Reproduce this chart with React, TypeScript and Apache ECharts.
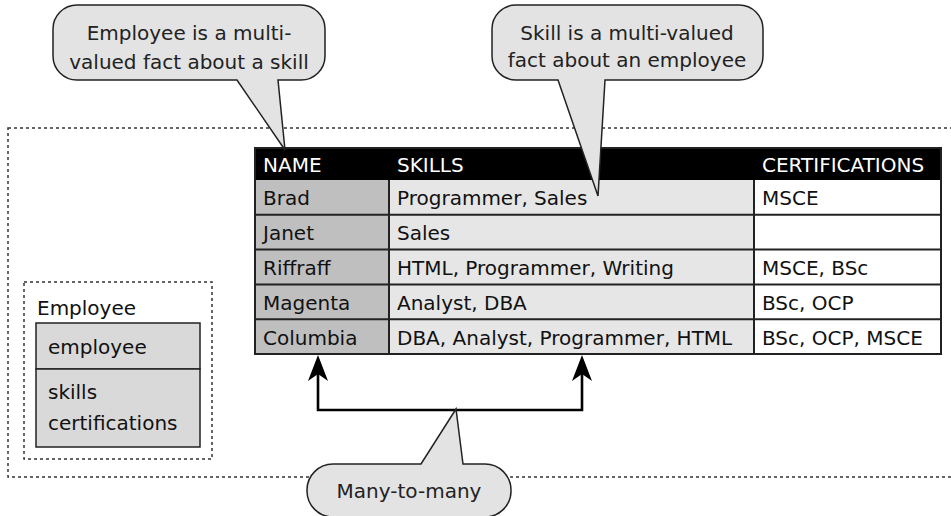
import React, { useEffect, useRef } from "react";
import * as echarts from "echarts";

// ---- data ----
const HEADERS = ["NAME", "SKILLS", "CERTIFICATIONS"];
const NAMES = ["Brad", "Janet", "Riffraff", "Magenta", "Columbia"];
const SKILLS = [
  "Programmer, Sales",
  "Sales",
  "HTML, Programmer, Writing",
  "Analyst, DBA",
  "DBA, Analyst, Programmer, HTML",
];
const CERTS = ["MSCE", "", "MSCE, BSc", "BSc, OCP", "BSc, OCP, MSCE"];
const ENTITY_NAME = "Employee";
const ENTITY_KEY = ["employee"];
const ENTITY_ATTRS = ["skills", "certifications"];
const CALLOUT_1 = ["Employee is a multi-", "valued fact about a skill"];
const CALLOUT_2 = ["Skill is a multi-valued", "fact about an employee"];
const CALLOUT_3 = ["Many-to-many"];

// ---- layout ----
const FONT = "DejaVu Sans";
const FS = 20;
const COL_X = [255, 389, 754, 941];
const COL_FILL = ["#bfbfbf", "#e6e6e6", "#ffffff"];
const HEAD_TOP = 148;
const HEAD_H = 32;
const ROW_H = 34.8;
const LINE = "#222";
const BUBBLE_FILL = "#e3e3e3";

type Tail = { side: "top" | "bottom"; a: number; b: number; tx: number; ty: number };

function bubblePath(x0: number, y0: number, x1: number, y1: number, r: number, t: Tail) {
  const k = 0.5523 * r;
  let d = `M ${x0 + r} ${y0} `;
  if (t.side === "top") d += `L ${t.a} ${y0} L ${t.tx} ${t.ty} L ${t.b} ${y0} `;
  d += `L ${x1 - r} ${y0} C ${x1 - r + k} ${y0} ${x1} ${y0 + r - k} ${x1} ${y0 + r} `;
  d += `L ${x1} ${y1 - r} C ${x1} ${y1 - r + k} ${x1 - r + k} ${y1} ${x1 - r} ${y1} `;
  if (t.side === "bottom") d += `L ${t.b} ${y1} L ${t.tx} ${t.ty} L ${t.a} ${y1} `;
  d += `L ${x0 + r} ${y1} C ${x0 + r - k} ${y1} ${x0} ${y1 - r + k} ${x0} ${y1 - r} `;
  d += `L ${x0} ${y0 + r} C ${x0} ${y0 + r - k} ${x0 + r - k} ${y0} ${x0 + r} ${y0} Z`;
  return d;
}

function txt(text: string, x: number, y: number, opts: any = {}) {
  return {
    type: "text",
    x,
    y,
    silent: true,
    z: opts.z ?? 10,
    style: {
      text,
      fill: opts.fill ?? "#111",
      fontSize: opts.fontSize ?? FS,
      fontFamily: FONT,
      align: opts.align ?? "left",
      verticalAlign: "middle",
      textAlign: opts.align ?? "left",
      textVerticalAlign: "middle",
    },
  };
}

export default function App() {
  const ref = useRef<HTMLDivElement>(null);
  useEffect(() => {
    echarts.graphic.registerShape(
      "bubble1",
      echarts.graphic.extendPath(
        bubblePath(53, 5, 325, 80, 24, { side: "bottom", a: 237, b: 278, tx: 285, ty: 150 }),
        {}
      )
    );
    echarts.graphic.registerShape(
      "bubble2",
      echarts.graphic.extendPath(
        bubblePath(492, 5, 763, 80, 24, { side: "bottom", a: 558, b: 605, tx: 598, ty: 196 }),
        {}
      )
    );
    echarts.graphic.registerShape(
      "bubble3",
      echarts.graphic.extendPath(
        bubblePath(307, 464, 511, 517, 26, { side: "top", a: 421, b: 463, tx: 456, ty: 409 }),
        {}
      )
    );

    const els: any[] = [];
    // outer dotted frame
    els.push({
      type: "rect",
      silent: true,
      shape: { x: 8, y: 128, width: 960, height: 349 },
      style: { fill: "none", stroke: "#333", lineWidth: 1.5, lineDash: [3, 3] },
    });
    // entity dotted frame
    els.push({
      type: "rect",
      silent: true,
      shape: { x: 24, y: 282, width: 188, height: 177 },
      style: { fill: "none", stroke: "#333", lineWidth: 1.5, lineDash: [3, 3] },
    });
    els.push(txt(ENTITY_NAME, 37, 308));
    els.push({
      type: "rect",
      silent: true,
      shape: { x: 36, y: 323, width: 164, height: 46 },
      style: { fill: "#d9d9d9", stroke: LINE, lineWidth: 1.5 },
    });
    els.push({
      type: "rect",
      silent: true,
      shape: { x: 36, y: 369, width: 164, height: 78 },
      style: { fill: "#d9d9d9", stroke: LINE, lineWidth: 1.5 },
    });
    ENTITY_KEY.forEach((s, i) => els.push(txt(s, 48, 347 + i * 31)));
    ENTITY_ATTRS.forEach((s, i) => els.push(txt(s, 48, 392 + i * 31)));

    // table
    const nRows = NAMES.length;
    const bodyTop = HEAD_TOP + HEAD_H;
    const tableBottom = bodyTop + nRows * ROW_H;
    const cols = [NAMES, SKILLS, CERTS];
    cols.forEach((_, c) => {
      els.push({
        type: "rect",
        silent: true,
        shape: { x: COL_X[c], y: bodyTop, width: COL_X[c + 1] - COL_X[c], height: nRows * ROW_H },
        style: { fill: COL_FILL[c] },
      });
    });
    els.push({
      type: "rect",
      silent: true,
      shape: { x: COL_X[0], y: HEAD_TOP, width: COL_X[3] - COL_X[0], height: HEAD_H },
      style: { fill: "#000" },
    });
    HEADERS.forEach((h, c) => els.push(txt(h, COL_X[c] + 8, HEAD_TOP + HEAD_H / 2 + 1, { fill: "#fff" })));
    cols.forEach((arr, c) => {
      arr.forEach((v, r) => {
        if (v) els.push(txt(v, COL_X[c] + 8, bodyTop + r * ROW_H + ROW_H / 2 + 1));
      });
    });
    // grid lines
    for (let r = 1; r < nRows; r++) {
      const y = bodyTop + r * ROW_H;
      els.push({
        type: "line",
        silent: true,
        shape: { x1: COL_X[0], y1: y, x2: COL_X[3], y2: y },
        style: { stroke: LINE, lineWidth: 2 },
      });
    }
    [COL_X[1], COL_X[2]].forEach((x) =>
      els.push({
        type: "line",
        silent: true,
        shape: { x1: x, y1: bodyTop, x2: x, y2: tableBottom },
        style: { stroke: LINE, lineWidth: 2 },
      })
    );
    els.push({
      type: "rect",
      silent: true,
      shape: { x: COL_X[0], y: HEAD_TOP, width: COL_X[3] - COL_X[0], height: tableBottom - HEAD_TOP },
      style: { fill: "none", stroke: LINE, lineWidth: 2 },
    });

    // many-to-many connector
    const ax1 = 318;
    const ax2 = 582;
    const ay = 410;
    const tip = tableBottom + 1;
    els.push({
      type: "polyline",
      silent: true,
      shape: { points: [[ax1, tip + 16], [ax1, ay], [ax2, ay], [ax2, tip + 16]] },
      style: { stroke: "#000", lineWidth: 2.6, fill: "none" },
    });
    [ax1, ax2].forEach((x) =>
      els.push({
        type: "polygon",
        silent: true,
        shape: { points: [[x, tip], [x + 10, tip + 26], [x, tip + 19], [x - 10, tip + 26]] },
        style: { fill: "#000" },
      })
    );

    // callouts
    ["bubble1", "bubble2", "bubble3"].forEach((t) =>
      els.push({
        type: t,
        silent: true,
        z: 20,
        style: { fill: BUBBLE_FILL, stroke: LINE, lineWidth: 1.5 },
      })
    );
    CALLOUT_1.forEach((s, i) => els.push(txt(s, 189, 33 + i * 29, { align: "center", z: 30, fill: "#222" })));
    CALLOUT_2.forEach((s, i) => els.push(txt(s, 627, 33 + i * 27, { align: "center", z: 30, fill: "#222" })));
    CALLOUT_3.forEach((s, i) => els.push(txt(s, 409, 491 + i * 27, { align: "center", z: 30, fill: "#222" })));

    const chart = echarts.init(ref.current!, null, { renderer: "svg", width: 951, height: 516 });
    chart.setOption({ animation: false, graphic: { elements: els } });
    return () => chart.dispose();
  }, []);
  return (
    <div
      ref={ref}
      style={{ position: "fixed", left: 0, top: 0, width: 951, height: 516, background: "#fff" }}
    />
  );
}
